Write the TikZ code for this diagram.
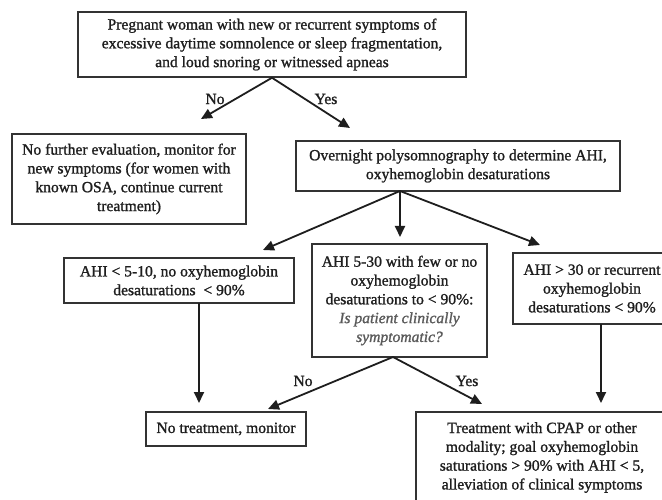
\documentclass[tikz,border=0pt]{standalone}
\usepackage{fontspec}
\setmainfont{Liberation Serif}[RawFeature={embolden=1.2}]
\usetikzlibrary{arrows.meta}
\definecolor{ink}{HTML}{1E1E1E}
\definecolor{edge}{HTML}{333333}
\definecolor{itgray}{HTML}{5A5A5A}
\begin{document}
\begin{tikzpicture}[x=1pt,y=-1pt,
  box/.style={draw=edge, line width=1.5pt, align=center, text=ink, inner sep=0pt,
    font=\fontsize{15.6}{18.8}\selectfont},
  lab/.style={text=ink, inner sep=0pt, font=\fontsize{15.6}{18}\selectfont},
  arr/.style={draw=ink, line width=1.8pt, -{Triangle[length=11pt,width=10pt]}}]
\useasboundingbox (0,0) rectangle (662,500);
\clip (0,0) rectangle (662,500);
\fill[white] (0,0) rectangle (662,500);

\node[box, minimum width=388pt, minimum height=65pt] (top) at (272,44.5)
  {Pregnant woman with new or recurrent symptoms of\\excessive daytime somnolence or sleep fragmentation,\\and loud snoring or witnessed apneas};
\node[box, minimum width=234pt, minimum height=90pt] (nofurther) at (129,179)
  {No further evaluation, monitor for\\new symptoms (for women with\\known OSA, continue current\\treatment)};
\node[box, minimum width=324pt, minimum height=50pt] (psg) at (458,166)
  {Overnight polysomnography to determine AHI,\\oxyhemoglobin desaturations};
\node[box, minimum width=230pt, minimum height=45pt] (low) at (179,280.5)
  {AHI < 5-10, no oxyhemoglobin\\desaturations \ < 90\%};
\node[box, minimum width=175pt, minimum height=113pt] (mid) at (399.5,300.5)
  {AHI 5-30 with few or no\\oxyhemoglobin\\desaturations to < 90\%:\\{\color{itgray}\itshape Is patient clinically}\\{\color{itgray}\itshape symptomatic?}};
\node[box, minimum width=158pt, minimum height=71pt] (high) at (592,288.5)
  {AHI > 30 or recurrent\\oxyhemoglobin\\desaturations < 90\%};
\node[box, minimum width=160pt, minimum height=34pt] (notreat) at (226,429)
  {No treatment, monitor};
\node[box, minimum width=252pt, minimum height=91pt] (treat) at (542,457.5)
  {Treatment with CPAP or other\\modality; goal oxyhemoglobin\\saturations > 90\% with AHI < 5,\\alleviation of clinical symptoms};

% connector end points
\coordinate (t1) at (201,119);
\coordinate (t2) at (350,128);
\coordinate (psgout) at (400,191);
\coordinate (t3) at (263,250);
\coordinate (t4) at (400,237);
\coordinate (t5) at (540,245);
\coordinate (lowout) at (199,303);
\coordinate (t6) at (199,403);
\coordinate (midout) at (393,357);
\coordinate (t7) at (268,409);
\coordinate (t8) at (482,404);
\coordinate (highout) at (601,324);
\coordinate (t9) at (601,403);

\draw[arr] (top.south) -- (t1);
\draw[arr] (top.south) -- (t2);
\draw[arr] (psgout) -- (t3);
\draw[arr] (psgout) -- (t4);
\draw[arr] (psgout) -- (t5);
\draw[arr] (lowout) -- (t6);
\draw[arr] (midout) -- (t7);
\draw[arr] (midout) -- (t8);
\draw[arr] (highout) -- (t9);

\node[lab] (no1) at (215,99) {No};
\node[lab] (yes1) at (326,99) {Yes};
\node[lab] (no2) at (303,381) {No};
\node[lab] (yes2) at (467,381) {Yes};
\end{tikzpicture}
\end{document}
